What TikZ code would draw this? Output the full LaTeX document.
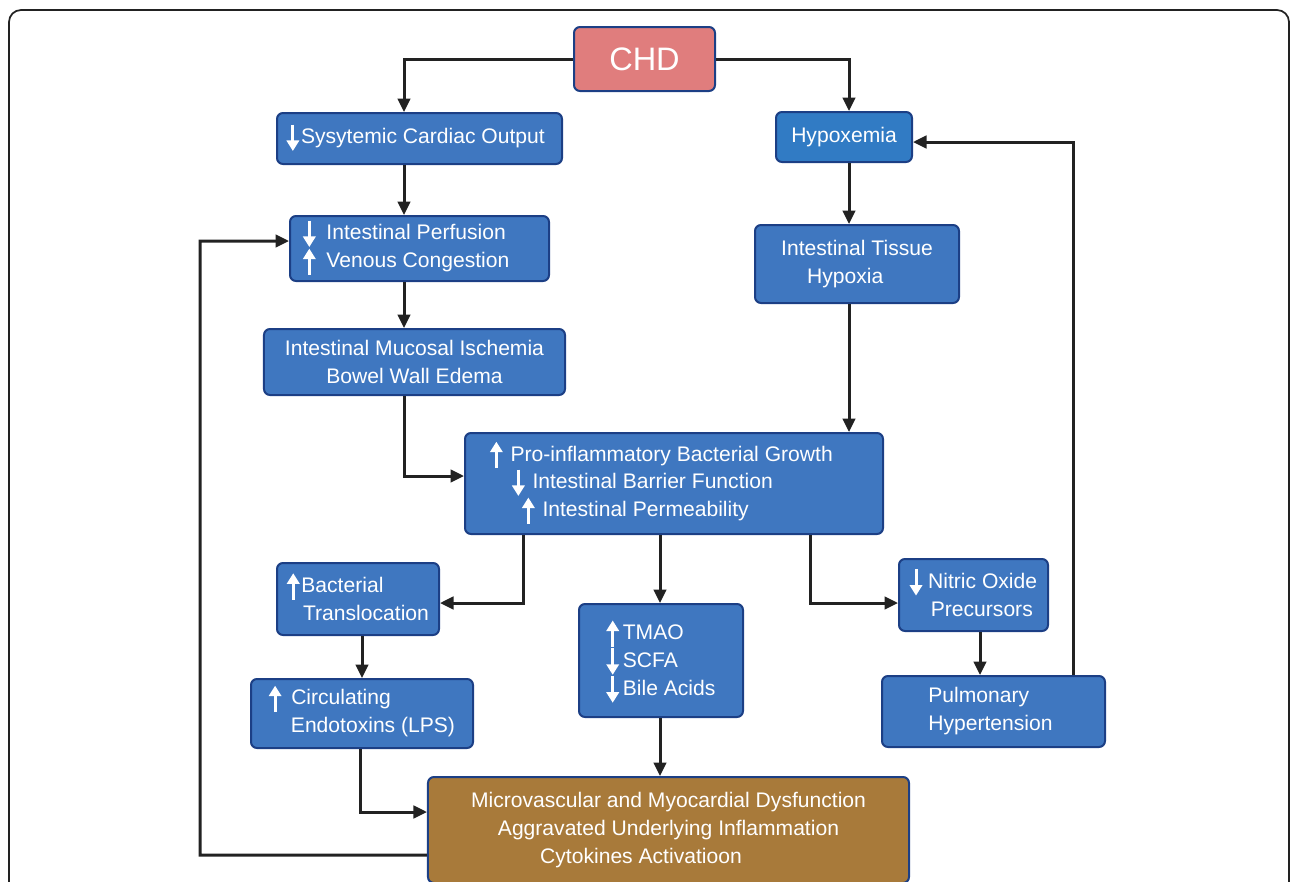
\documentclass[tikz,border=0pt]{standalone}
\usepackage{fontspec}
\setmainfont{Liberation Sans}
\usepackage{xcolor}
\usetikzlibrary{arrows.meta,positioning,calc}

\definecolor{boxblue}{HTML}{3F77C0}
\definecolor{hyxblue}{HTML}{317BC4}
\definecolor{boxedge}{HTML}{1C3F85}
\definecolor{chdred}{HTML}{E07D7D}
\definecolor{outbrown}{HTML}{A87A3A}
\definecolor{linegray}{HTML}{222222}

% small white up/down arrows used inside the boxes
\newcommand{\decr}{\smash{\tikz[baseline=0pt]\draw[white, line width=1.7pt, -{Triangle[length=6pt,width=7pt]}] (0,11pt) -- (0,-4pt);}}
\newcommand{\incr}{\smash{\tikz[baseline=0pt]\draw[white, line width=1.7pt, -{Triangle[length=6pt,width=7pt]}] (0,-4pt) -- (0,11pt);}}

\begin{document}
\begin{tikzpicture}[x=0.2mm, y=-0.2mm,
  box/.style={draw=boxedge, line width=0.4mm, rounded corners=1.2mm, fill=boxblue, text=white, inner sep=0pt, font=\fontsize{12}{15.9}\selectfont},
  arr/.style={-{Triangle[length=2.7mm,width=2.5mm]}, line width=0.6mm, draw=linegray}]
\useasboundingbox (0,0) rectangle (1290,881);
\draw[line width=0.35mm, linegray, rounded corners=2.4mm] (9,920) -- (9,10) -- (1289,10) -- (1289,920);

\node[box, fill=chdred, minimum width=28.2mm, minimum height=12.8mm, font=\fontsize{18.5}{20}\selectfont] (chd) at (644.5,59) {CHD};
\node[box, minimum width=57mm, minimum height=10.2mm] (sco) at (419.5,138.5) {\decr\hspace{0.4mm}Sysytemic Cardiac Output\hspace*{1.5mm}};
\node[box, fill=hyxblue, minimum width=27.2mm, minimum height=10mm] (hyx) at (844,137) {\raisebox{-0.6mm}{Hypoxemia}};
\node[box, minimum width=51.8mm, minimum height=13mm, align=left] (perf) at (419.5,248.5) {\decr\hspace{2.2mm}Intestinal Perfusion\hspace*{6mm}\\ \incr\hspace{2.2mm}Venous Congestion};
\node[box, minimum width=40.8mm, minimum height=15.6mm, align=left] (tis) at (857,264) {Intestinal Tissue\\ \hspace{5.2mm}Hypoxia};
\node[box, minimum width=60.2mm, minimum height=13.2mm, align=center] (muc) at (414.5,362) {Intestinal Mucosal Ischemia\\ Bowel Wall Edema};
\node[box, minimum width=83.6mm, minimum height=20.2mm, align=left] (pro) at (674,483.5) {\incr\hspace{1.6mm}Pro-inflammatory Bacterial Growth\hspace*{5mm}\\ \hspace{4.4mm}\decr\hspace{1.6mm}Intestinal Barrier Function\\ \hspace{6.4mm}\incr\hspace{1.6mm}Intestinal Permeability};
\node[box, minimum width=32.4mm, minimum height=14.4mm, align=left] (bact) at (358,599) {\incr\hspace{0.4mm}Bacterial\\ \hspace{3.2mm}Translocation};
\node[box, minimum width=32.8mm, minimum height=22.6mm, align=left] (tmao) at (661,660.5) {\incr\hspace{0.8mm}TMAO\\ \decr\hspace{0.8mm}SCFA\\ \decr\hspace{0.8mm}Bile Acids};
\node[box, minimum width=29.8mm, minimum height=14.4mm, align=left] (nitric) at (973.5,595) {\decr\hspace{1.2mm}Nitric Oxide\\ \hspace{4.2mm}Precursors};
\node[box, minimum width=44.4mm, minimum height=13.8mm, align=left] (circ) at (362,713.5) {\incr\hspace{2mm}Circulating\\ \hspace{4.4mm}Endotoxins (LPS)};
\node[box, minimum width=44.6mm, minimum height=14.2mm, align=left] (pulm) at (993.5,711.5) {Pulmonary\\ Hypertension\hspace*{1.2mm}};
\node[box, fill=outbrown, minimum width=96.2mm, minimum height=21.2mm, align=center] (out) at (668.5,830) {Microvascular and Myocardial Dysfunction\\ Aggravated Underlying Inflammation\\ Cytokines Activatioon\hspace*{11mm}};

\coordinate (fb) at (200,241);

\draw[arr] (chd.west) -| ([xshift=-3.1mm]sco.north);
\draw[arr] (chd.east) -| ([xshift=1mm]hyx.north);
\draw[arr] ([xshift=-3.1mm]sco.south) -- ([xshift=-3.1mm]perf.north);
\draw[arr] ([xshift=1mm]hyx.south) -- ([xshift=1mm]hyx.south |- tis.north);
\draw[arr] ([xshift=-3.1mm]perf.south) -- ([xshift=-3.1mm]perf.south |- muc.north);
\draw[arr] ([xshift=-1.6mm]tis.south) -- ([xshift=-1.6mm]tis.south |- pro.north);
\draw[arr] ([xshift=-2.1mm]muc.south) |- ([yshift=1.5mm]pro.west);
\draw[arr] ([xshift=-30.2mm]pro.south) |- ([yshift=-0.8mm]bact.east);
\draw[arr] ([xshift=-2.8mm]pro.south) -- ([xshift=-2.8mm]pro.south |- tmao.north);
\draw[arr] ([xshift=27.2mm]pro.south) |- ([yshift=-1.6mm]nitric.west);
\draw[arr] ([xshift=0.8mm]bact.south) -- ([xshift=0.8mm]bact.south |- circ.north);
\draw[arr] ([xshift=1.3mm]nitric.south) -- ([xshift=1.3mm]nitric.south |- pulm.north);
\draw[arr] ([xshift=15.9mm]pulm.north) |- ([yshift=-1mm]hyx.east);
\draw[arr] ([xshift=-0.4mm]circ.south) |- ([yshift=3.6mm]out.west);
\draw[arr] ([xshift=-0.2mm]tmao.south) -- ([xshift=-0.2mm]tmao.south |- out.north);
\draw[arr] ([yshift=-5mm]out.west) -| (fb) -- ([yshift=1.5mm]perf.west);
\end{tikzpicture}
\end{document}
